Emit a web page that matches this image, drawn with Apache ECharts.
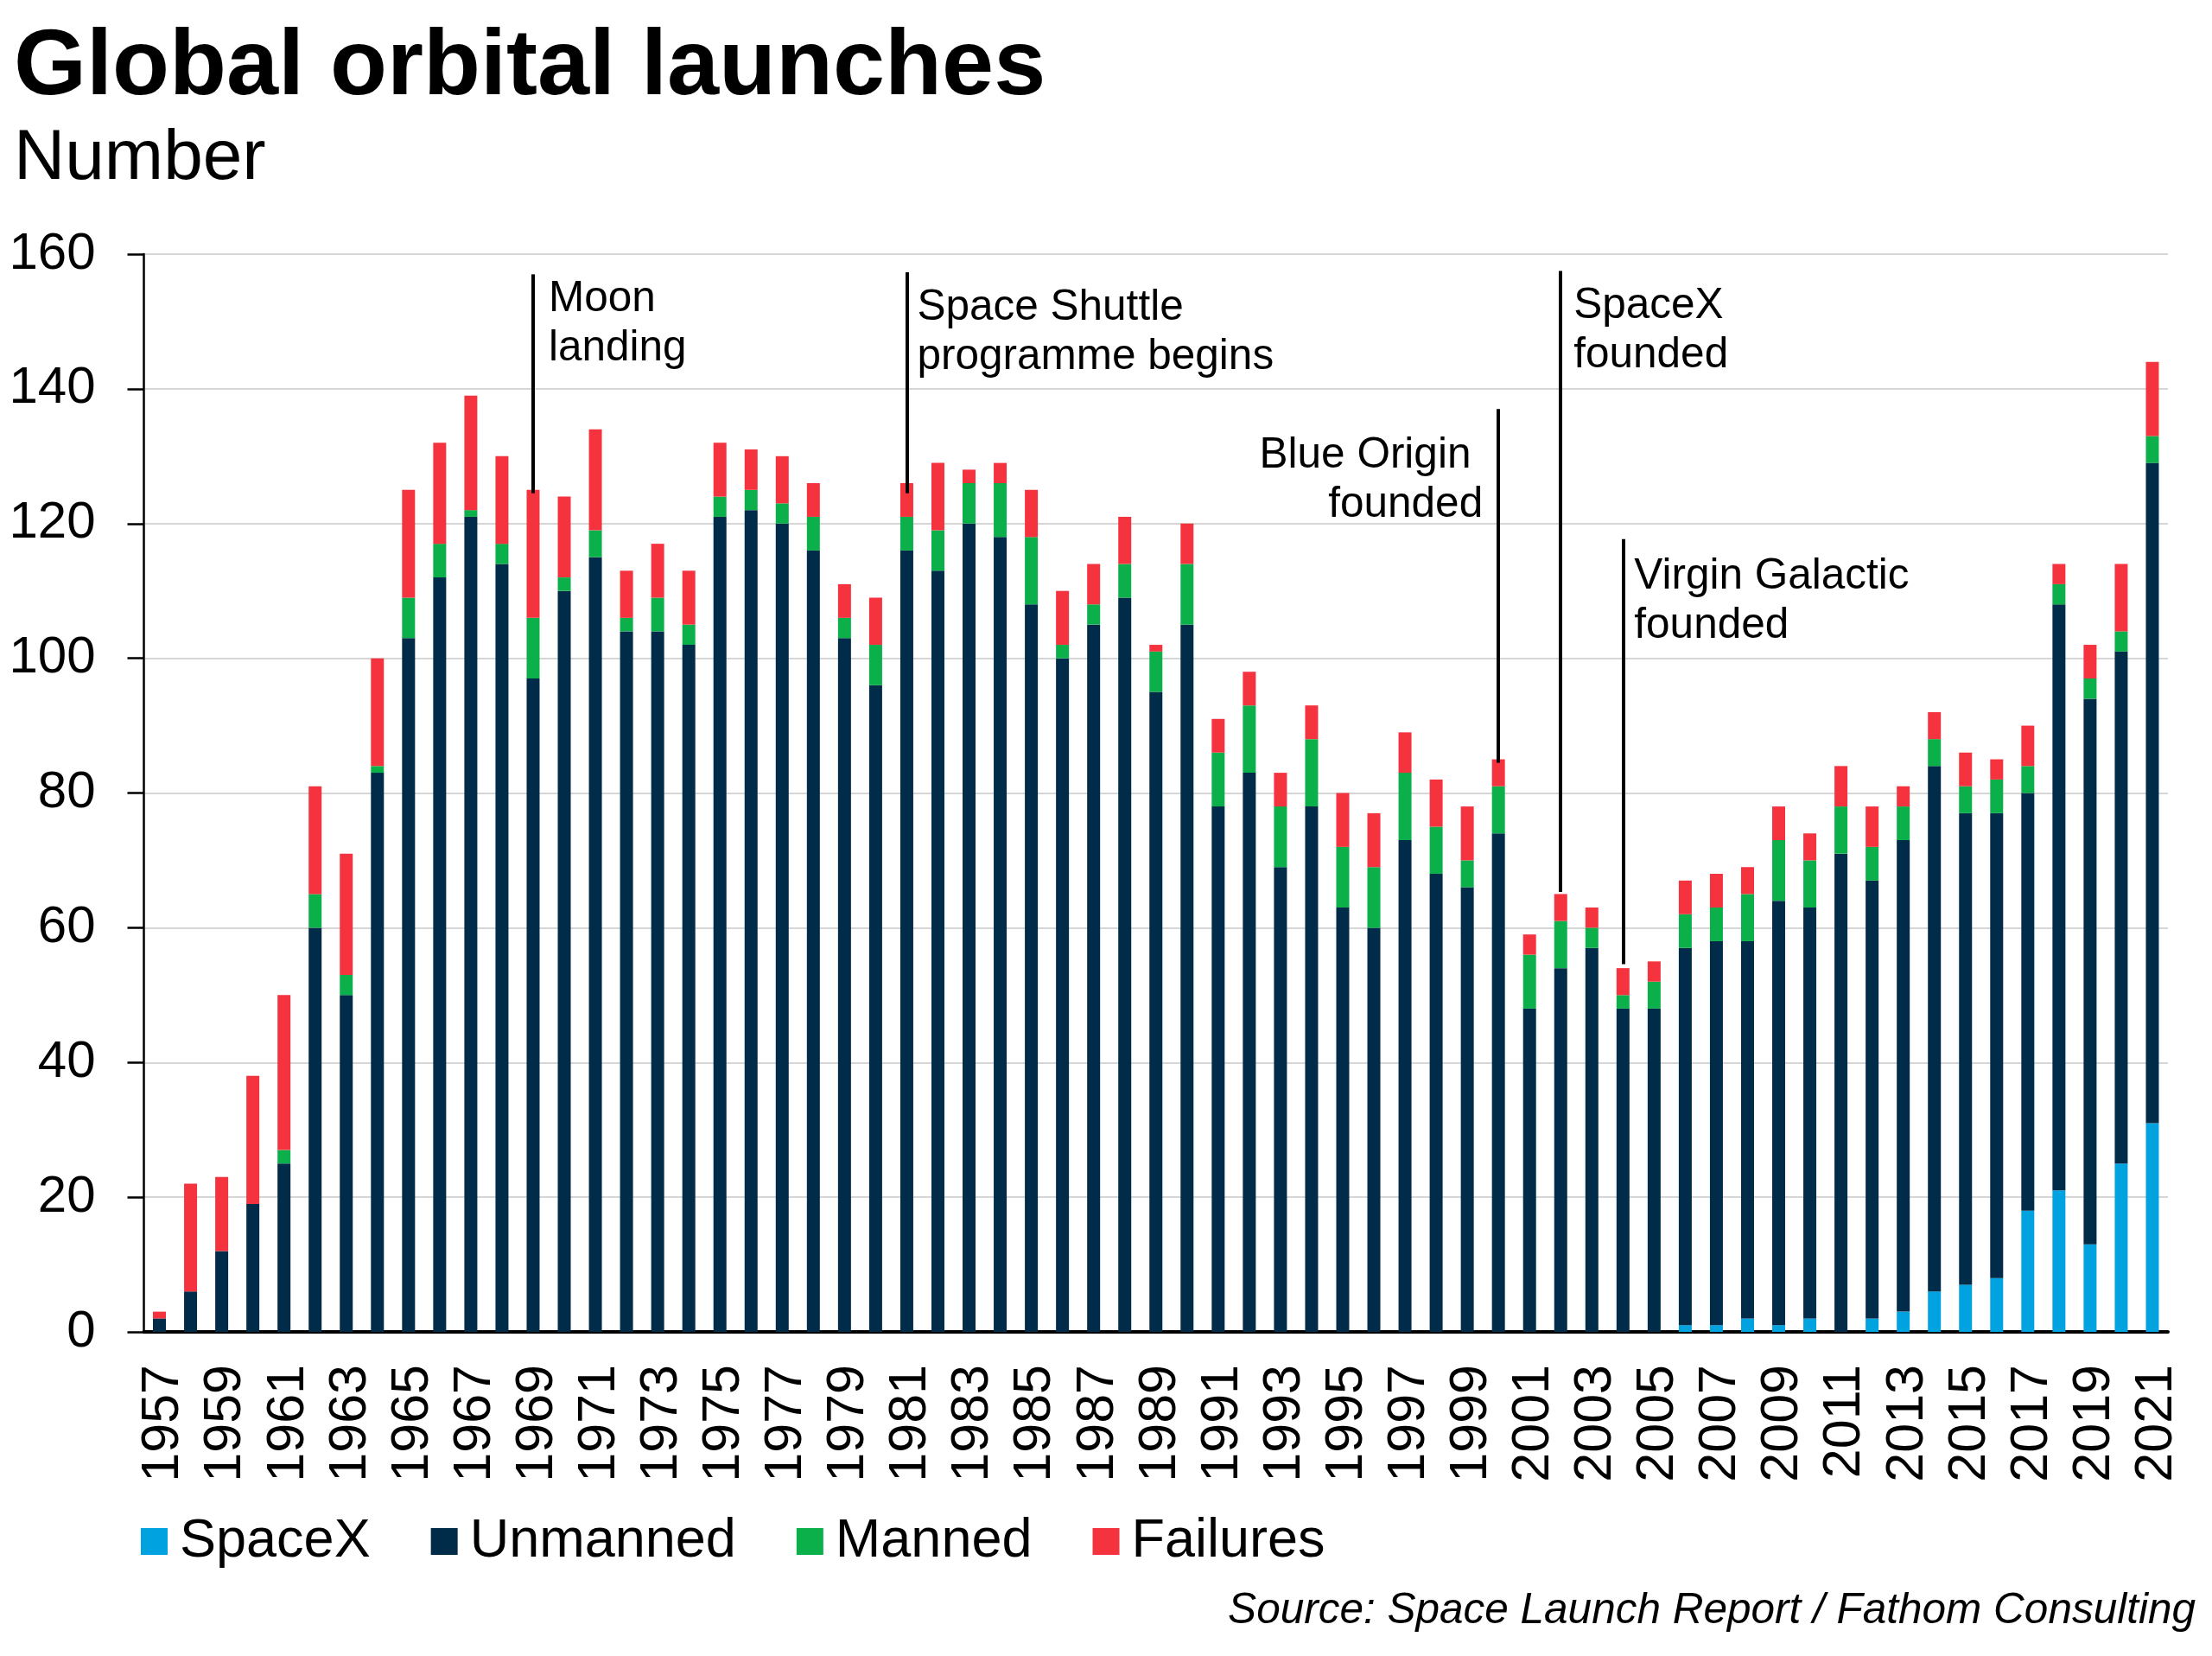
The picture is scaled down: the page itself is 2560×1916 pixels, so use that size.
<!DOCTYPE html>
<html><head><meta charset="utf-8">
<style>html,body{margin:0;padding:0;background:#fff}#c{width:2560px;height:1916px}</style>
<script src="https://cdn.jsdelivr.net/npm/echarts@6/dist/echarts.min.js"></script>
</head><body><div id="c"></div>
<script>
const years = [1957,1958,1959,1960,1961,1962,1963,1964,1965,1966,1967,1968,1969,1970,1971,1972,1973,1974,1975,1976,1977,1978,1979,1980,1981,1982,1983,1984,1985,1986,1987,1988,1989,1990,1991,1992,1993,1994,1995,1996,1997,1998,1999,2000,2001,2002,2003,2004,2005,2006,2007,2008,2009,2010,2011,2012,2013,2014,2015,2016,2017,2018,2019,2020,2021].map(String);
const spacex = [0,0,0,0,0,0,0,0,0,0,0,0,0,0,0,0,0,0,0,0,0,0,0,0,0,0,0,0,0,0,0,0,0,0,0,0,0,0,0,0,0,0,0,0,0,0,0,0,0,1,1,2,1,2,0,2,3,6,7,8,18,21,13,25,31];
const unmanned = [2,6,12,19,25,60,50,83,103,112,121,114,97,110,115,104,104,102,121,122,120,116,103,96,116,113,120,118,108,100,105,109,95,105,78,83,69,78,63,60,73,68,66,74,48,54,57,48,48,56,57,56,63,61,71,65,70,78,70,69,62,87,81,76,98];
const manned = [0,0,0,0,2,5,3,1,6,5,1,3,9,2,4,2,5,3,3,3,3,5,3,6,5,6,6,8,10,2,3,5,6,9,8,10,9,10,9,9,10,7,4,7,8,7,3,2,4,5,5,7,9,7,7,5,5,4,4,5,4,3,3,3,4];
const failures = [1,16,11,19,23,16,18,16,16,15,17,13,19,12,15,7,8,8,8,6,7,5,5,7,5,10,2,3,7,8,6,7,1,6,5,5,5,5,8,8,6,7,8,4,3,4,3,4,3,5,5,4,5,4,6,6,3,4,5,3,6,3,5,10,11];
const eventYears = ['1969','1981','2000','2002','2004'];
const eventTops = [157,157.3,137,157.5,117.7];
const eventBottoms = [124.5,124.5,84.5,65.3,54.6];
const eventTexts = ['Moon\nlanding','Space Shuttle\nprogramme begins','Blue Origin \nfounded','SpaceX\nfounded','Virgin Galactic\nfounded'];
const eventTextLevels = [149.6,148.4,126.4,148.6,108.4];
const eventSides = ['right','right','left','right','right'];
const eventGaps = [18,12,18,15,13];
const FONT = '"Liberation Sans"';
const chart = echarts.init(document.getElementById('c'), null, {renderer:'canvas'});
const bar = (name,data,color,extra) => Object.assign({name,type:'bar',stack:'t',data,barWidth:15,itemStyle:{color},animation:false},extra||{});
chart.setOption({
  animation:false,
  backgroundColor:'#fff',
  title:[
    {text:'Global orbital launches',left:16,top:25,padding:0,textStyle:{fontFamily:FONT,fontSize:108,fontWeight:'bold',color:'#000'}},
    {text:'Number',left:16,top:143,padding:0,textStyle:{fontFamily:FONT,fontSize:82,fontWeight:'normal',color:'#000'}},
    {text:'Source: Space Launch Report / Fathom Consulting',right:19,top:1839,padding:0,textStyle:{fontFamily:FONT,fontSize:49.5,fontStyle:'italic',fontWeight:'normal',color:'#000'}}
  ],
  legend:{left:163,top:1752,padding:0,icon:'rect',itemWidth:31,itemHeight:31,itemGap:70,data:['SpaceX','Unmanned','Manned','Failures'],textStyle:{fontFamily:FONT,fontSize:63,color:'#000',padding:[0,0,0,9]}},
  grid:{left:166.5,right:51,top:294,bottom:375,containLabel:false},
  xAxis:{type:'category',data:years,boundaryGap:true,
    axisLine:{lineStyle:{color:'#000',width:4}},
    axisTick:{interval:1,alignWithLabel:false,length:18,lineStyle:{color:'#000',width:2}},
    axisLabel:{interval:1,rotate:90,margin:38,fontFamily:FONT,fontSize:61,color:'#000',
      formatter:'{a|{value}}',rich:{a:{fontFamily:FONT,fontSize:61,color:'#000',padding:[10,0,0,0]}}},
    splitLine:{show:false}},
  yAxis:{type:'value',min:0,max:160,interval:20,
    axisLine:{show:true,lineStyle:{color:'#000',width:2.5}},
    axisTick:{show:true,length:19,lineStyle:{color:'#000',width:2.5}},
    axisLabel:{margin:56,fontFamily:FONT,fontSize:60,color:'#000'},
    splitLine:{show:true,lineStyle:{color:'#d6d6d6',width:2}}},
  series:[
    bar('SpaceX',spacex,'#00a3e0'),
    bar('Unmanned',unmanned,'#002b49'),
    bar('Manned',manned,'#0cb04a'),
    bar('Failures',failures,'#f5333f',{
      markLine:{silent:true,symbol:'none',animation:false,label:{show:false},
        lineStyle:{color:'#000',width:4,type:'solid'},
        data:eventYears.map((y,i)=>[{coord:[y,eventTops[i]]},{coord:[y,eventBottoms[i]]}])},
      markPoint:{silent:true,symbol:'circle',symbolSize:0,animation:false,
        data:eventYears.map((y,i)=>({coord:[y,eventTextLevels[i]],label:{show:true,formatter:eventTexts[i],position:eventSides[i],distance:eventGaps[i],
          align:eventSides[i]==='right'?'left':'right',fontFamily:FONT,fontSize:49.5,lineHeight:57,color:'#000'}}))}
    })
  ]
});
</script></body></html>
